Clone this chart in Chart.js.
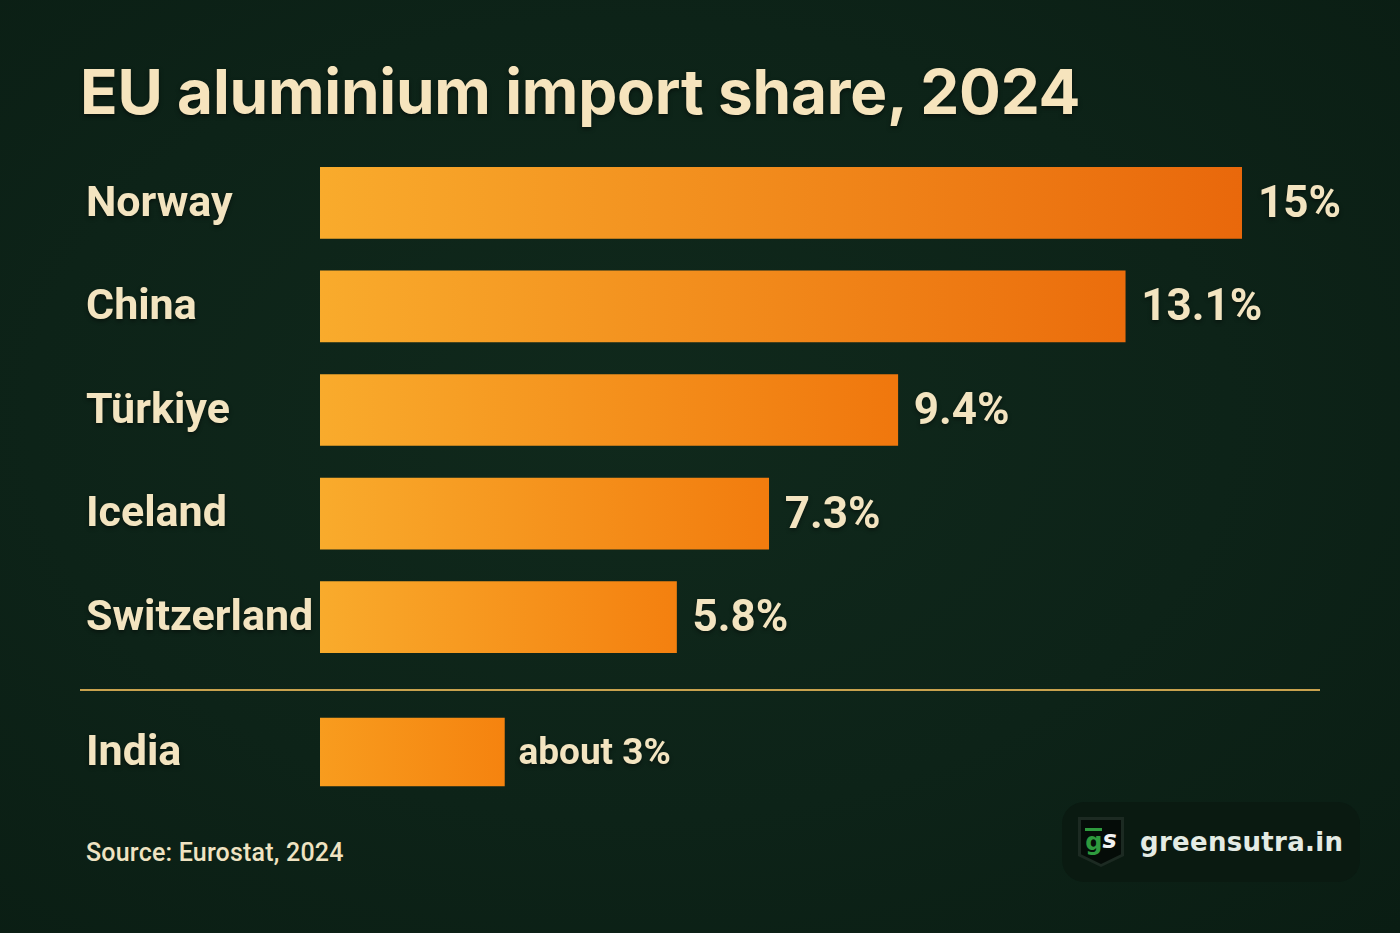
<!DOCTYPE html>
<html>
<head>
<meta charset="utf-8">
<script src="https://cdn.jsdelivr.net/npm/chart.js@4.4.1/dist/chart.umd.min.js"></script>
<style>
  html, body { margin: 0; padding: 0; }
  body {
    width: 1400px; height: 933px; position: relative; overflow: hidden;
    background: radial-gradient(ellipse at 45% 45%, #10291c 0%, #0d2318 55%, #0a1d13 100%);
    font-family: Roboto, sans-serif;
  }
  #title {
    position: absolute; left: 80px; top: 54px; margin: 0;
    font-family: Inter, sans-serif; font-weight: 700; font-size: 62px;
    color: #f6e4bd; letter-spacing: -0.2px;
    text-shadow: 0 2px 4px rgba(0,0,0,0.5);
  }
  #mainWrap { position: absolute; left: 0; top: 151px; width: 1400px; height: 518px; }
  #indiaWrap { position: absolute; left: 0; top: 700px; width: 1400px; height: 104px; }
  #rule { position: absolute; left: 80px; top: 689px; width: 1240px; height: 2px; background: #c9a24e; }
  #source {
    position: absolute; left: 86px; top: 838px;
    font-size: 25px; font-weight: 500; color: #efe3c2; letter-spacing: 0.2px;
  }
  #logo {
    position: absolute; left: 1062px; top: 802px; width: 298px; height: 80px;
    border-radius: 22px; background: #0a1a11;
    display: flex; align-items: center;
  }
  #logo .icon {
    margin-left: 16px; width: 46px; height: 50px; background: #1c2a22;
    clip-path: polygon(0 0, 100% 0, 100% 78%, 50% 100%, 0 78%);
    display: flex; align-items: center; justify-content: center;
  }
  #logo .inner {
    width: 40px; height: 44px; background: #050c08;
    clip-path: polygon(0 0, 100% 0, 100% 78%, 50% 100%, 0 78%);
    display: flex; align-items: center; justify-content: center; padding-bottom: 4px; box-sizing: border-box;
    font-family: "DejaVu Sans", sans-serif; font-weight: 700; font-size: 24px;
  }
  #logo .inner .g { color: #2e9a3e; border-top: 3px solid #2e9a3e; line-height: 22px; }
  #logo .inner .s { color: #f2f2f2; font-style: italic; }
  #logo .name {
    margin-left: 16px; font-family: "DejaVu Sans", sans-serif; font-weight: 700;
    font-size: 26px; color: #e4ebe4; letter-spacing: 0.3px;
  }
</style>
</head>
<body>
<h1 id="title">EU aluminium import share, 2024</h1>
<div id="mainWrap"><canvas id="main"></canvas></div>
<div id="rule"></div>
<div id="indiaWrap"><canvas id="india"></canvas></div>
<div id="source">Source: Eurostat, 2024</div>
<div id="logo"><div class="icon"><div class="inner"><span class="g">g</span><span class="s">s</span></div></div><div class="name">greensutra.in</div></div>

<script>
const countries = ['Norway', 'China', 'Türkiye', 'Iceland', 'Switzerland'];
const shares = [15, 13.1, 9.4, 7.3, 5.8];
const shareLabels = ['15%', '13.1%', '9.4%', '7.3%', '5.8%'];

const indiaLabel = ['India'];
const indiaShare = [3];
const indiaText = ['about 3%'];

const X_MAX = 15;
const CREAM = '#f3e4c0';

function mix(a, b, t) {
  const pa = [1, 3, 5].map(i => parseInt(a.substr(i, 2), 16));
  const pb = [1, 3, 5].map(i => parseInt(b.substr(i, 2), 16));
  return 'rgb(' + pa.map((v, i) => Math.round(v + (pb[i] - v) * t)).join(',') + ')';
}

// gradient per bar, from bar start to bar end; longer bars end deeper
function barGradient(c0, shortEnd, longEnd) {
  return function(context) {
    const chart = context.chart;
    const area = chart.chartArea;
    const v = context.raw;
    const t = Math.max(0, (v - 5) / (X_MAX - 5));
    const c1 = mix(shortEnd, longEnd, t);
    if (!area) return c1;
    const x1 = chart.scales.x.getPixelForValue(v);
    const g = chart.ctx.createLinearGradient(area.left, 0, x1, 0);
    g.addColorStop(0, c0);
    g.addColorStop(1, c1);
    return g;
  };
}

// draws category names on the left and value text after each bar
function labelPlugin(texts, nameFont, valueFont, gap) {
  return {
    id: 'labels',
    afterDatasetsDraw(chart) {
      const ctx = chart.ctx;
      const meta = chart.getDatasetMeta(0);
      ctx.save();
      ctx.fillStyle = CREAM;
      ctx.textBaseline = 'middle';
      ctx.shadowColor = 'rgba(0,0,0,0.45)';
      ctx.shadowBlur = 4;
      ctx.shadowOffsetY = 2;
      meta.data.forEach(function(bar, i) {
        ctx.font = nameFont;
        ctx.textAlign = 'left';
        ctx.fillText(chart.data.labels[i], 86, bar.y + 2);
        ctx.font = valueFont;
        ctx.fillText(texts[i], bar.x + gap, bar.y + 3);
      });
      ctx.restore();
    }
  };
}

function baseOptions() {
  return {
    indexAxis: 'y',
    responsive: true,
    maintainAspectRatio: false,
    animation: false,
    layout: { padding: { left: 320, right: 158, top: 0, bottom: 0 } },
    plugins: { legend: { display: false }, tooltip: { enabled: false } },
    scales: {
      x: { display: false, min: 0, max: X_MAX },
      y: { display: false }
    }
  };
}

new Chart(document.getElementById('main'), {
  type: 'bar',
  data: {
    labels: countries,
    datasets: [{
      data: shares,
      backgroundColor: barGradient('#f9ab2c', '#f5820f', '#e9680b'),
      barThickness: 71,
      borderWidth: 0
    }]
  },
  options: baseOptions(),
  plugins: [labelPlugin(shareLabels, '700 43px Roboto', '700 44px Roboto', 16)]
});

new Chart(document.getElementById('india'), {
  type: 'bar',
  data: {
    labels: indiaLabel,
    datasets: [{
      data: indiaShare,
      backgroundColor: barGradient('#f89c1e', '#f5830f', '#f5830f'),
      barThickness: 68,
      borderWidth: 0
    }]
  },
  options: baseOptions(),
  plugins: [labelPlugin(indiaText, '700 43px Roboto', '700 37px Roboto', 14)]
});
</script>
</body>
</html>
